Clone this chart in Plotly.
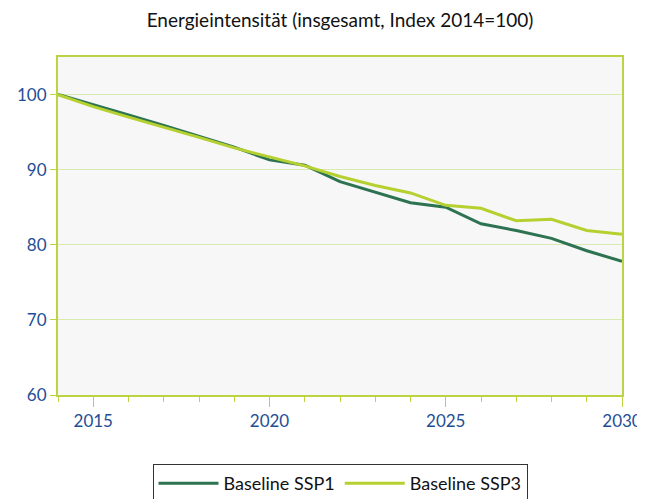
import plotly.graph_objects as go

years = list(range(2014, 2031))
ssp1 = [100, 98.7, 97.3, 95.9, 94.5, 93.0, 91.3, 90.6, 88.4, 87.0, 85.6, 85.0, 82.8, 81.9, 80.85, 79.2, 77.8]
ssp3 = [100, 98.4, 97.0, 95.7, 94.3, 92.9, 91.7, 90.5, 89.1, 87.9, 86.9, 85.25, 84.85, 83.2, 83.4, 81.9, 81.4]
names = ["Baseline SSP1", "Baseline SSP3"]
title = "Energieintensität (insgesamt, Index 2014=100)"

dark = "#2d7352"
light = "#b6d030"
axis_col = "#bcd444"
grid_col = "#d9eab0"
tick_col = "#1f4e96"
font_fam = "Lato, Open Sans, sans-serif"

fig = go.Figure()
fig.add_trace(go.Scatter(x=years, y=ssp1, mode="lines", name=names[0],
                         line=dict(color=dark, width=3)))
fig.add_trace(go.Scatter(x=years, y=ssp3, mode="lines", name=names[1],
                         line=dict(color=light, width=3)))

fig.update_layout(
    width=645, height=499,
    margin=dict(l=50, r=31, t=49, b=112, autoexpand=False),
    paper_bgcolor="white",
    plot_bgcolor="#f7f7f7",
    font=dict(family=font_fam, size=17, color=tick_col),
    title=dict(text=title, x=0.5, xref="paper", xanchor="center", y=0.975, yref="container",
               yanchor="middle",
               font=dict(family=font_fam, size=19, color="#111111")),
    showlegend=True,
    legend=dict(orientation="h", x=0.5, xanchor="center", y=-0.204, yanchor="top",
                bordercolor="#333333", borderwidth=1, bgcolor="white",
                font=dict(size=18, color="#111111"), itemwidth=60),
    xaxis=dict(range=[2014, 2030], tickvals=[2015, 2020, 2025, 2030], automargin=False,
               showgrid=False, zeroline=False,
               showline=True, linecolor=axis_col, linewidth=2, mirror=True,
               ticks="outside", ticklen=10, tickcolor=axis_col, tickwidth=1,
               minor=dict(dtick=1, tick0=2014, ticks="outside", ticklen=5, tickcolor=axis_col, showgrid=False),
               tickfont=dict(size=17, color=tick_col)),
    yaxis=dict(range=[60, 105], tickvals=[60, 70, 80, 90, 100], automargin=False,
               showgrid=True, gridcolor=grid_col, gridwidth=1, zeroline=False,
               showline=True, linecolor=axis_col, linewidth=2, mirror=True,
               ticks="outside", ticklen=6, tickcolor=axis_col,
               tickfont=dict(size=17, color=tick_col)),
)

fig.write_html("out.html")
